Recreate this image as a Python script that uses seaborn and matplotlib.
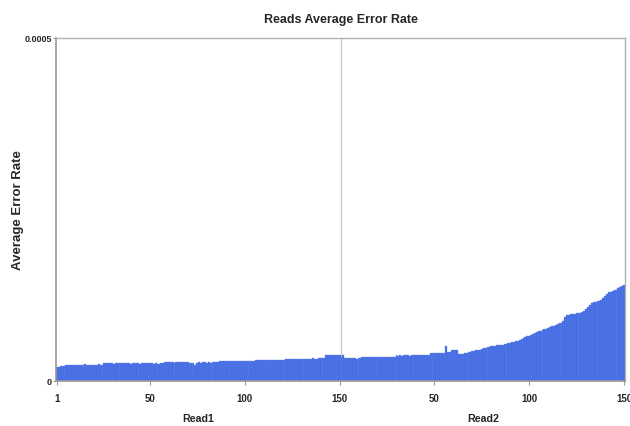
import pandas as pd
import numpy as np
import matplotlib
matplotlib.use("Agg")
import matplotlib.pyplot as plt
import seaborn as sns

# average error rate per cycle, in units of 1e-6
read1_err = [
    20.0, 21.0, 21.3, 21.8, 22.3, 22.6, 23.4, 23.6, 23.8, 23.5,
    23.9, 23.7, 24.0, 23.8, 23.6, 24.1, 23.9, 23.7, 23.8, 24.0,
    23.6, 23.9, 24.2, 23.8, 24.0, 25.8, 25.6, 26.0, 25.7, 25.9,
    25.5, 25.8, 26.1, 25.7, 25.9, 25.6, 25.8, 26.0, 25.7, 25.5,
    25.9, 26.0, 25.6, 25.8, 25.4, 25.7, 25.9, 25.6, 25.8, 26.1,
    25.7, 25.5, 25.9, 25.4, 25.2, 25.8, 26.0, 27.2, 27.0, 27.4,
    27.1, 27.5, 26.9, 27.3, 27.6, 27.0, 27.2, 27.8, 27.1, 27.3,
    26.4, 26.2, 26.5, 24.0, 26.8, 27.0, 26.9, 27.2, 27.0, 26.8,
    27.1, 26.9, 27.3, 27.0, 27.2, 27.4, 29.0, 29.3, 28.8, 29.1,
    29.6, 29.2, 28.9, 29.4, 29.0, 29.5, 29.1, 28.7, 29.3, 29.8,
    29.2, 29.0, 29.4, 29.6, 29.1, 30.4, 30.8, 30.5, 30.2, 30.9,
    30.6, 30.4, 31.0, 30.7, 30.5, 30.8, 30.3, 31.1, 30.6, 30.9,
    31.2, 31.8, 32.1, 31.7, 32.0, 32.3, 31.9, 32.2, 32.5, 32.0,
    32.4, 32.1, 32.6, 32.3, 32.0, 33.2, 32.7, 32.4, 33.0, 32.8,
    33.4, 33.6, 37.2, 37.8, 37.5, 37.9, 37.6, 38.0, 37.7, 37.9,
]
read2_err = [
    34.5, 37.8, 34.2, 33.8, 34.0, 33.0, 32.8, 33.3, 32.6, 33.1,
    33.0, 34.6, 35.0, 34.7, 35.2, 34.9, 35.1, 34.8, 35.3, 35.0,
    34.9, 35.2, 35.4, 35.1, 35.3, 35.0, 35.5, 35.2, 35.6, 37.2,
    37.0, 37.4, 37.1, 37.6, 37.3, 37.5, 37.0, 37.8, 37.4, 37.6,
    37.9, 37.5, 38.0, 37.7, 38.2, 38.4, 38.0, 40.6, 40.8, 40.5,
    41.0, 40.7, 41.2, 40.9, 41.5, 50.6, 41.8, 41.6, 45.6, 45.4,
    45.8, 45.5, 39.8, 39.2, 39.5, 40.1, 41.2, 41.8, 43.0, 43.6,
    44.2, 44.6, 45.3, 45.9, 46.8, 47.5, 48.2, 49.0, 50.1, 50.6,
    51.2, 51.5, 51.8, 52.0, 52.3, 52.6, 53.5, 54.2, 55.0, 55.8,
    56.5, 57.4, 58.3, 59.0, 60.2, 61.4, 62.7, 63.8, 65.0, 66.2,
    67.3, 68.5, 69.8, 71.0, 72.2, 73.1, 74.3, 75.4, 76.5, 77.6,
    78.3, 79.5, 80.6, 81.8, 83.0, 84.1, 84.5, 88.0, 93.5, 96.2,
    96.8, 97.2, 97.5, 98.0, 98.7, 98.4, 99.2, 101.0, 102.5, 104.5,
    107.8, 111.0, 113.5, 114.7, 115.3, 116.2, 117.0, 118.6, 121.5, 124.2,
    126.8, 129.3, 130.2, 131.0, 132.1, 133.0, 135.2, 137.4, 139.0, 139.5,
]
read_names = ["Read1", "Read2"]
x_tick_cycles = [1, 50, 100, 150]
y_max = 0.0005

df = pd.DataFrame({
    "read": [read_names[0]] * len(read1_err) + [read_names[1]] * len(read2_err),
    "cycle": list(range(1, len(read1_err) + 1)) + list(range(1, len(read2_err) + 1)),
    "err": [v * 1e-6 for v in read1_err + read2_err],
})
df["pos"] = df["read"] + "_" + df["cycle"].astype(str)

sns.set_style("white")
plt.rcParams["font.family"] = ["Liberation Sans", "DejaVu Sans"]

fig = plt.figure(figsize=(6.3, 4.27), dpi=100)
ax = fig.add_axes([56 / 630, 1 - 382 / 427, 569 / 630, 343 / 427])

sns.barplot(data=df, x="pos", y="err", order=list(df["pos"]), color="#4169e1",
            saturation=1, width=1.0, edgecolor="#6688ea", linewidth=0.25, ax=ax)

n1 = len(read1_err)
ax.axvline(n1 - 0.5, color="#cccccc", lw=1, zorder=0)
ax.set_xlim(-0.5, len(df) - 0.5)
ax.set_ylim(0, y_max)

ticks = [c - 1 for c in x_tick_cycles] + [n1 + c - 1 for c in x_tick_cycles[1:]]
labels = [str(c) for c in x_tick_cycles] + [str(c) for c in x_tick_cycles[1:]]
ax.set_xticks(ticks)
ax.set_xticklabels(labels, fontsize=7, fontweight="bold")
ax.set_yticks([0, y_max])
ax.set_yticklabels(["0", "0.0005"], fontsize=6.5, fontweight="bold")
ax.tick_params(axis="x", length=3, width=0.8, color="#999999", pad=6, direction="out", bottom=True)
ax.tick_params(axis="y", length=2, width=0.8, color="#999999", pad=1, direction="out", left=True)
ax.set_xlabel("")
ax.set_ylabel("")

for side in ["left", "bottom"]:
    ax.spines[side].set_color("#999999")
    ax.spines[side].set_linewidth(1.2)
for side in ["top", "right"]:
    ax.spines[side].set_color("#b0b0b0")
    ax.spines[side].set_linewidth(1)

fig.text(340.5 / 630, 1 - 20 / 427, "Reads Average Error Rate", ha="center", va="center",
         fontsize=9, fontweight="bold")
fig.text(18 / 630, 1 - 210 / 427, "Average Error Rate", ha="center", va="center",
         rotation=90, fontsize=9.5, fontweight="bold")
fig.text(198 / 630, 1 - 419 / 427, read_names[0], ha="center", va="center",
         fontsize=7.7, fontweight="bold")
fig.text(483 / 630, 1 - 419 / 427, read_names[1], ha="center", va="center",
         fontsize=7.7, fontweight="bold")

fig.savefig("out.png", dpi=100)
